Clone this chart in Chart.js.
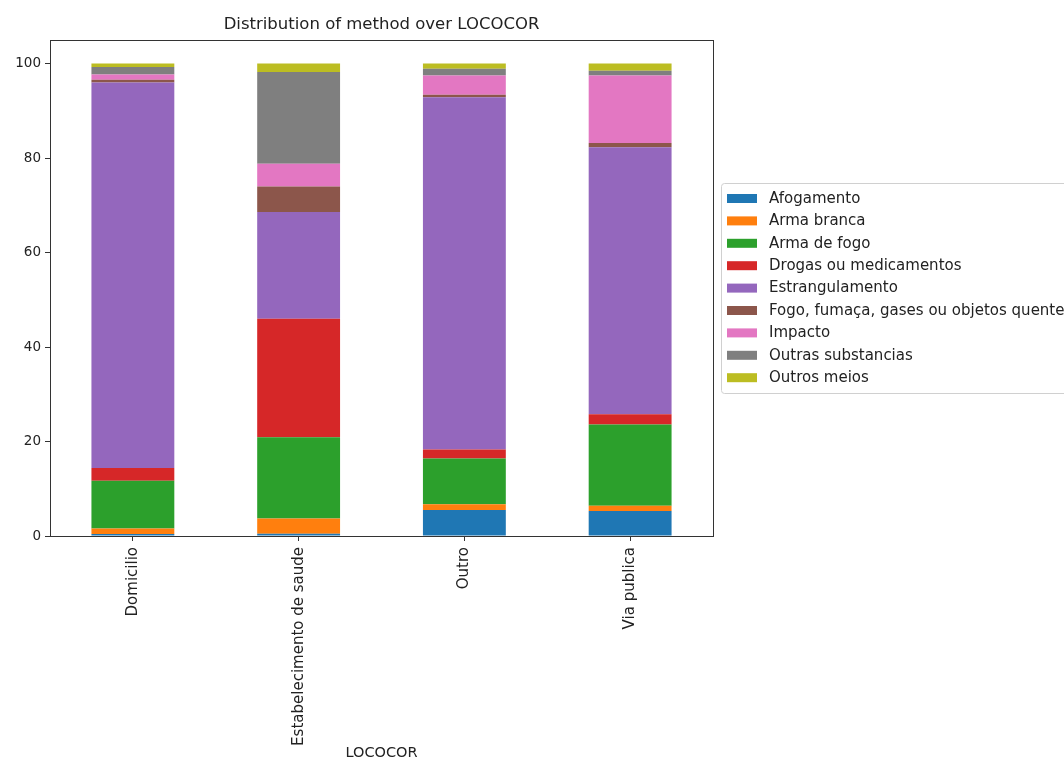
<!DOCTYPE html>
<html lang="en">
<head>
  <meta charset="UTF-8" />
  <title>Distribution of method over LOCOCOR</title>
  <script src="https://cdn.jsdelivr.net/npm/chart.js"></script>
  <style>
    html, body { margin: 0; padding: 0; background: #fff; }
    #wrap { width: 1064px; height: 762px; position: relative; }
  </style>
</head>
<body>
<div id="wrap"><canvas id="chart"></canvas></div>

<script>
const locais = ['Domicilio', 'Estabelecimento de saude', 'Outro', 'Via publica'];

// percent share of each method per place
const afogamento  = [0.4, 0.5, 5.5, 5.3];
const armaBranca  = [1.2, 3.2, 1.2, 1.1];
const armaFogo    = [10.1, 17.2, 9.7, 17.2];
const drogas      = [2.7, 25.1, 1.9, 2.2];
const estrangul   = [81.6, 22.6, 74.6, 56.5];
const fogoFumaca  = [0.6, 5.4, 0.5, 0.9];
const impacto     = [1.1, 4.8, 4.1, 14.3];
const outrasSubst = [1.6, 19.4, 1.4, 1.0];
const outrosMeios = [0.7, 1.8, 1.1, 1.5];

const metodos = ['Afogamento', 'Arma branca', 'Arma de fogo', 'Drogas ou medicamentos',
  'Estrangulamento', 'Fogo, fumaça, gases ou objetos quentes', 'Impacto',
  'Outras substancias', 'Outros meios'];
const series = [afogamento, armaBranca, armaFogo, drogas, estrangul,
  fogoFumaca, impacto, outrasSubst, outrosMeios];
const cores = ['#1f77b4', '#ff7f0e', '#2ca02c', '#d62728', '#9467bd',
  '#8c564b', '#e377c2', '#7f7f7f', '#bcbd22'];

const FONT = "'DejaVu Sans', sans-serif";
Chart.defaults.font.family = FONT;
Chart.defaults.color = '#222';

// frame, title and the outside legend (matplotlib style)
const extras = {
  id: 'extras',
  afterDraw(chart) {
    const { ctx, chartArea: a } = chart;
    ctx.save();
    ctx.strokeStyle = '#333';
    ctx.lineWidth = 1;
    ctx.strokeRect(a.left + 0.5, a.top + 0.5, a.right - a.left, a.bottom - a.top);

    ctx.fillStyle = '#222';
    ctx.font = '16.5px ' + FONT;
    ctx.textAlign = 'center';
    ctx.textBaseline = 'middle';
    ctx.fillText('Distribution of method over LOCOCOR', (a.left + a.right) / 2, 25);

    // legend box
    const lx = 721, ly = 183, lw = 360, lh = 210;
    ctx.strokeStyle = '#d0d0d0';
    ctx.fillStyle = 'rgba(255,255,255,0.9)';
    ctx.beginPath();
    ctx.roundRect(lx + 0.5, ly + 0.5, lw, lh, 3);
    ctx.fill();
    ctx.stroke();
    ctx.font = '15px ' + FONT;
    ctx.textAlign = 'left';
    metodos.forEach((m, i) => {
      const y = 198 + i * 22.4;
      ctx.fillStyle = cores[i];
      ctx.fillRect(727, y - 4, 30, 9);
      ctx.fillStyle = '#222';
      ctx.fillText(m, 769, y + 1);
    });
    ctx.restore();
  }
};

new Chart(document.getElementById('chart'), {
  type: 'bar',
  data: {
    labels: locais,
    datasets: series.map((s, i) => ({
      label: metodos[i],
      data: s,
      backgroundColor: cores[i],
      borderWidth: 0,
      categoryPercentage: 1,
      barPercentage: 0.5
    }))
  },
  options: {
    responsive: true,
    maintainAspectRatio: false,
    animation: false,
    layout: { padding: { top: 40, right: 351, bottom: 0, left: 0 } },
    plugins: {
      legend: { display: false },
      title: { display: false },
      tooltip: { enabled: false }
    },
    scales: {
      x: {
        stacked: true,
        afterFit(scale) { scale.height = 226; },
        grid: { offset: false, drawOnChartArea: false, drawTicks: true, tickLength: 5, color: '#333' },
        border: { display: true, color: '#333' },
        ticks: { minRotation: 90, maxRotation: 90, font: { size: 15 }, color: '#222', padding: 6 },
        title: { display: true, text: 'LOCOCOR', font: { size: 14.5 }, color: '#222', padding: { top: 0, bottom: 0 } }
      },
      y: {
        stacked: true,
        min: 0,
        max: 105,
        afterFit(scale) { scale.width = 50; },
        afterBuildTicks(scale) {
          scale.ticks = [0, 20, 40, 60, 80, 100].map(v => ({ value: v }));
        },
        grid: { drawOnChartArea: false, drawTicks: true, tickLength: 5, color: '#333' },
        border: { display: true, color: '#333' },
        ticks: { font: { size: 13.5 }, color: '#222', padding: 4 }
      }
    }
  },
  plugins: [extras]
});
</script>
</body>
</html>
